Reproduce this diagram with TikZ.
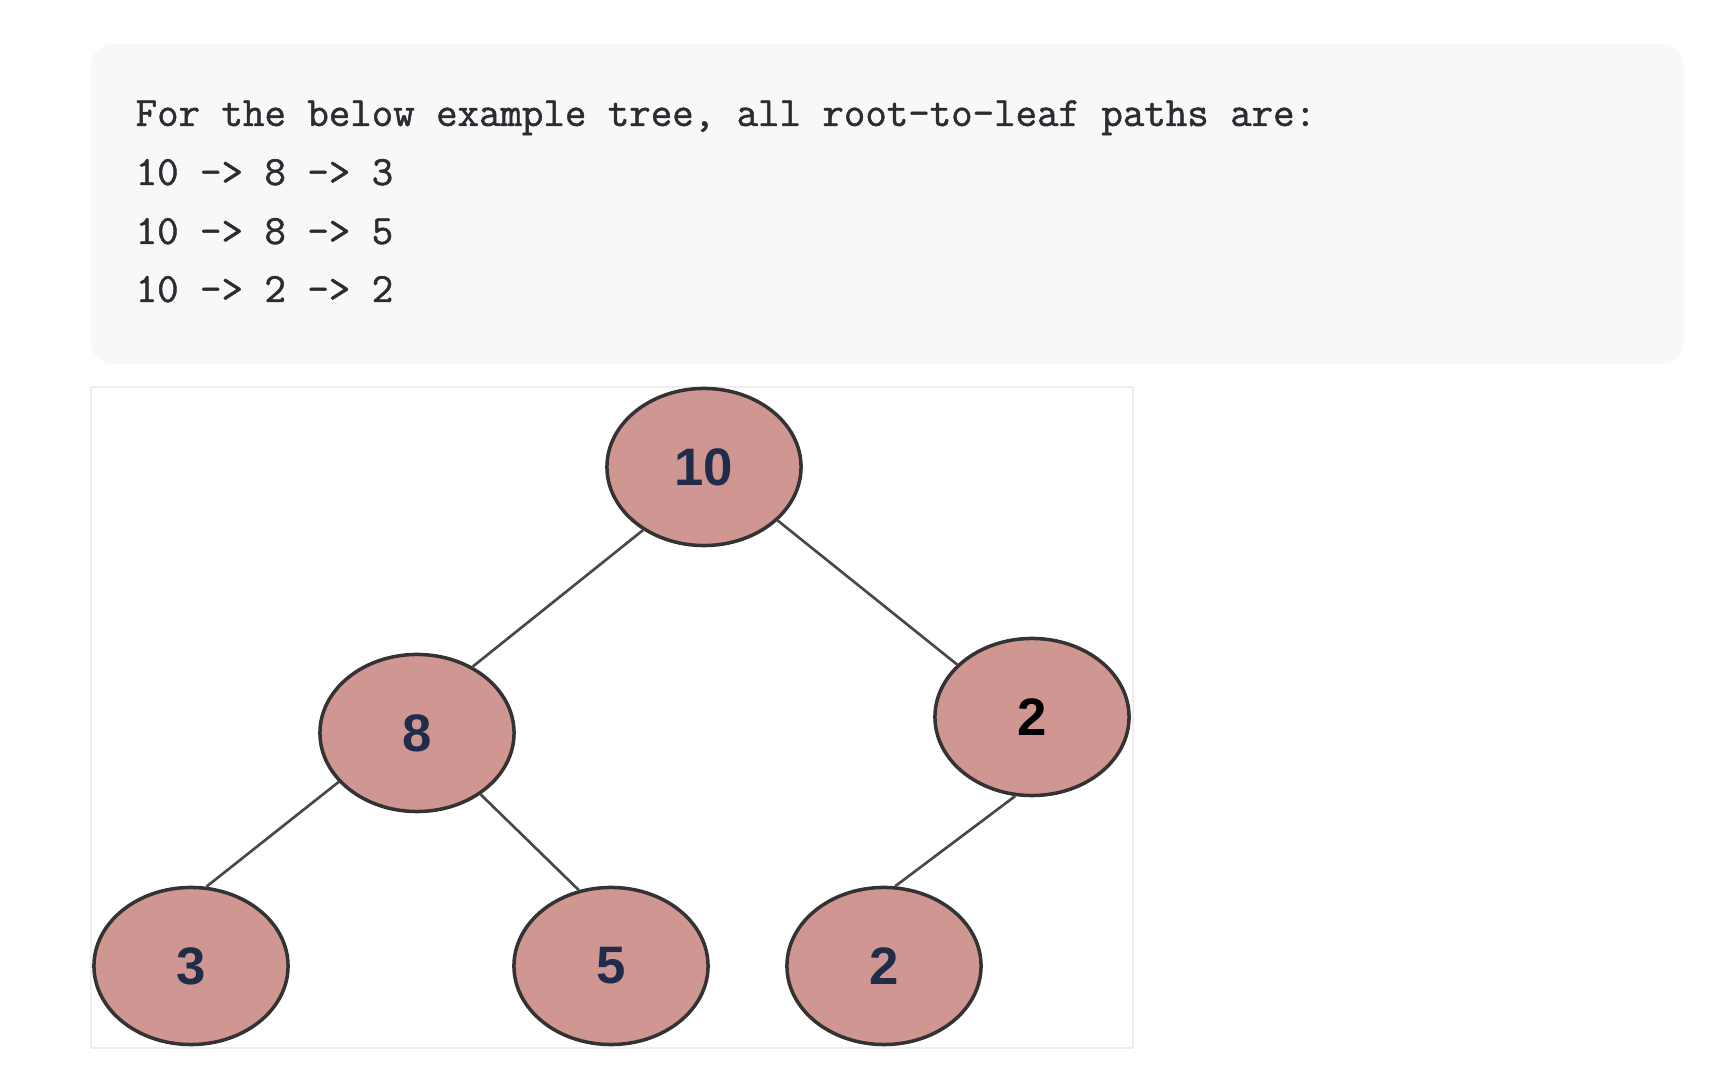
\documentclass[tikz,border=0pt]{standalone}
\usepackage{fontspec}
\setmainfont{Liberation Sans}
\newfontfamily\codefont[FakeBold=1.2]{Latin Modern Mono}
\usetikzlibrary{math}
\usetikzlibrary{shapes.geometric}
\definecolor{noderose}{RGB}{208,151,146}
\definecolor{boxgray}{RGB}{248,248,248}
\definecolor{codegray}{RGB}{41,45,50}
\definecolor{numblue}{RGB}{33,44,74}
\definecolor{edgegray}{RGB}{72,72,72}
\definecolor{panelline}{RGB}{238,238,238}

\begin{document}
\begin{tikzpicture}[x=0.01cm,y=-0.01cm,
  codeline/.style={anchor=base west, inner sep=0pt, text=codegray, font=\codefont\fontsize{11.85}{13}\selectfont},
  treenode/.style={ellipse, draw=black!80, line width=1pt, fill=noderose, minimum width=1.94cm, minimum height=1.57cm, inner sep=0pt, text=numblue, font=\bfseries\fontsize{15}{18}\selectfont},
  treeedge/.style={draw=edgegray, line width=0.75pt}]
\tikzmath{
\lvlA=467;
\lvlB=733;
\lvlC=966;
}
\useasboundingbox (0,0) rectangle (1720,1092);

\fill[boxgray, rounded corners=0.22cm] (91,44) rectangle (1684,364);
\node[codeline] (intro) at (135,126) {For the below example tree, all root-to-leaf paths are:};
\node[codeline] (pathA) at (135,185) {10 –> 8 –> 3};
\node[codeline] (pathB) at (135,244) {10 –> 8 –> 5};
\node[codeline] (pathC) at (135,302) {10 –> 2 –> 2};

\draw[panelline, fill=white] (91,387) rectangle (1133,1048);

\node[treenode] (root) at (704,\lvlA) {10};
\node[treenode] (left) at (417,\lvlB) {8};
\node[treenode, text=black] (right) at (1032,717) {2};
\node[treenode] (leafA) at (191,\lvlC) {3};
\node[treenode] (leafB) at (611,\lvlC) {5};
\node[treenode] (leafC) at (884,\lvlC) {2};

\draw[treeedge] (root.226) -- (left.50);
\draw[treeedge] (root.324) -- (right.145);
\draw[treeedge] (left.212) -- (leafA.79);
\draw[treeedge] (left.316) -- (leafB.113);
\draw[treeedge] (right.258) -- (leafC.82);
\end{tikzpicture}
\end{document}
